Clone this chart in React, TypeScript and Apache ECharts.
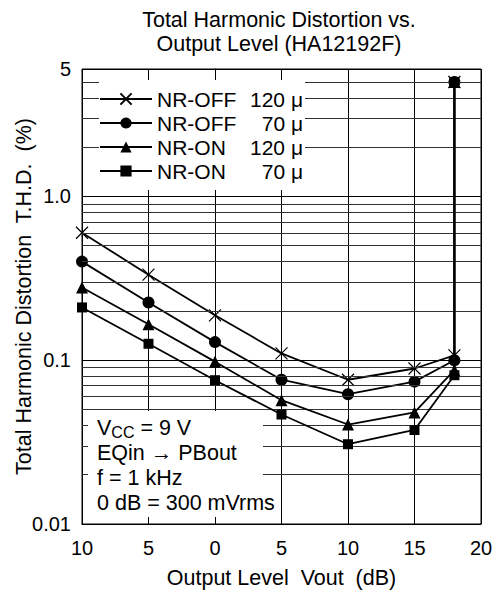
import React, { useEffect, useRef } from "react";
import * as echarts from "echarts";

const xValues = [-10, -5, 0, 5, 10, 15, 18, 18];
const nrOff120 = [0.6, 0.333, 0.188, 0.11, 0.076, 0.089, 0.107, 5];
const nrOff70 = [0.4, 0.225, 0.129, 0.076, 0.062, 0.074, 0.1, 5];
const nrOn120 = [0.278, 0.166, 0.098, 0.057, 0.0405, 0.048, 0.087, 5];
const nrOn70 = [0.21, 0.126, 0.0755, 0.0466, 0.0307, 0.0375, 0.081, 5];

const seriesModes = ["NR-OFF", "NR-OFF", "NR-ON", "NR-ON"];
const seriesTc = ["120 μ", "70 μ", "120 μ", "70 μ"];
const seriesValues = [nrOff120, nrOff70, nrOn120, nrOn70];
const seriesSymbols = [
  "path://M0,0 L10,10 M10,0 L0,10",
  "circle",
  "triangle",
  "rect",
];
const seriesSymbolSizes = [12, 12, 12, 10];

const minorGridValues = [
  0.02, 0.03, 0.04, 0.05, 0.06, 0.07, 0.08, 0.09,
  0.2, 0.3, 0.4, 0.5, 0.6, 0.7, 0.8, 0.9,
  2, 3, 4, 5,
];

const xTickLabelFor = (v: number) => String(Math.abs(v));

const titleText = "Total Harmonic Distortion vs.\nOutput Level (HA12192F)";
const xName = "Output Level  Vout  (dB)";
const yName = "Total Harmonic Distortion  T.H.D.  (%)";
const noteLines = [
  "{n|V}{s|CC}{n| = 9 V}",
  "{n|EQin → PBout}",
  "{n|f = 1 kHz}",
  "{n|0 dB = 300 mVrms}",
];

const FONT = "'Liberation Sans', Arial, Helvetica, sans-serif";
const BIG = 21.5;

export default function App() {
  const ref = useRef<HTMLDivElement>(null);
  useEffect(() => {
    if (!ref.current) return;
    const chart = echarts.init(ref.current, null, { renderer: "svg" });
    const names = seriesModes.map((m, i) => m + "  " + seriesTc[i]);
    const series: any[] = seriesValues.map((vals, i) => ({
      name: names[i],
      type: "line",
      data: vals.map((v, j) => [xValues[j], v]),
      symbol: seriesSymbols[i],
      symbolSize: seriesSymbolSizes[i],
      showAllSymbol: true,
      lineStyle: { color: "#000", width: 1.8 },
      itemStyle:
        i === 0
          ? { color: "#fff", borderColor: "#000", borderWidth: 1.2 }
          : { color: "#000", borderColor: "#000", borderWidth: 0 },
      z: 3 + i,
      silent: true,
    }));
    series.unshift({
      name: "__grid",
      type: "line",
      data: [],
      z: 1,
      silent: true,
      markLine: {
        silent: true,
        symbol: "none",
        label: { show: false },
        lineStyle: { color: "#333", width: 1, type: "solid" },
        data: minorGridValues.map((v) => ({ yAxis: v })),
      },
    });
    chart.setOption({
      animation: false,
      backgroundColor: "#fff",
      textStyle: { fontFamily: FONT, color: "#000" },
      title: {
        text: titleText,
        left: 274,
        top: 3,
        textAlign: "center",
        textStyle: {
          fontFamily: FONT,
          fontSize: BIG,
          fontWeight: "normal",
          color: "#000",
          lineHeight: 24,
        },
      },
      grid: {
        left: 82,
        right: 14,
        top: 69,
        bottom: 68,
        outerBoundsMode: "none",
        show: true,
        borderColor: "#000",
        borderWidth: 1,
        backgroundColor: "transparent",
      },
      legend: {
        data: names,
        orient: "vertical",
        left: 99,
        top: 80,
        itemWidth: 52,
        itemHeight: 14,
        itemGap: 0,
        padding: [7, 2, 7, 0],
        backgroundColor: "#fff",
        selectedMode: false,
        z: 20,
        formatter: (name: string) => {
          const parts = name.split("  ");
          return `{a|${parts[0]}}{b|${parts[1]}}`;
        },
        textStyle: {
          fontFamily: FONT,
          fontSize: 21,
          color: "#000",
          lineHeight: 24,
          rich: {
            a: { fontFamily: FONT, fontSize: 21, lineHeight: 24, width: 93, color: "#000" },
            b: { fontFamily: FONT, fontSize: 21, lineHeight: 24, width: 53, align: "right", color: "#000" },
          },
        },
      },
      xAxis: {
        type: "value",
        min: -10,
        max: 20,
        interval: 5,
        name: xName,
        nameLocation: "middle",
        nameGap: 43,
        nameMoveOverlap: false,
        nameTextStyle: { fontFamily: FONT, fontSize: BIG, color: "#000" },
        axisLine: { show: true, lineStyle: { color: "#000", width: 1 } },
        axisTick: { show: true, inside: true, length: 6, lineStyle: { color: "#000" } },
        axisLabel: {
          formatter: xTickLabelFor,
          fontFamily: FONT,
          fontSize: 20,
          color: "#000",
          margin: 14,
        },
        splitLine: { show: true, lineStyle: { color: "#000", width: 1 } },
      },
      yAxis: {
        type: "log",
        logBase: 10,
        min: 0.01,
        max: 6,
        name: yName,
        nameLocation: "middle",
        nameGap: 47,
        nameMoveOverlap: false,
        nameTextStyle: { fontFamily: FONT, fontSize: BIG, color: "#000" },
        axisLine: { show: true, lineStyle: { color: "#000", width: 1 } },
        axisTick: { show: false },
        axisLabel: {
          fontFamily: FONT,
          fontSize: 20,
          color: "#000",
          margin: 11,
          showMaxLabel: true,
          formatter: (v: number) => {
            if (v > 2) return "5";
            const e = Math.round(Math.log10(v));
            if (e === 0) return "1.0";
            if (e === -1) return "0.1";
            return "0.01";
          },
        },
        splitLine: { show: true, lineStyle: { color: "#000", width: 1 } },
      },
      graphic: [
        {
          type: "group",
          z: 30,
          children: [
            {
              type: "rect",
              shape: { x: 88, y: 411, width: 175, height: 106 },
              style: { fill: "#fff" },
              z: 30,
            },
            {
              type: "text",
              x: 97,
              y: 415,
              z: 31,
              style: {
                text: noteLines.join("\n"),
                fill: "#000",
                fontFamily: FONT,
                fontSize: BIG,
                verticalAlign: "top",
                rich: {
                  n: { fontFamily: FONT, fontSize: BIG, lineHeight: 25, fill: "#000" },
                  s: {
                    fontFamily: FONT,
                    fontSize: 16,
                    lineHeight: 15,
                    verticalAlign: "bottom",
                    fill: "#000",
                  },
                },
              },
            },
          ],
        },
      ],
      series,
    });
    return () => chart.dispose();
  }, []);
  return (
    <div
      ref={ref}
      style={{ position: "fixed", left: 0, top: 0, width: 495, height: 592 }}
    />
  );
}
